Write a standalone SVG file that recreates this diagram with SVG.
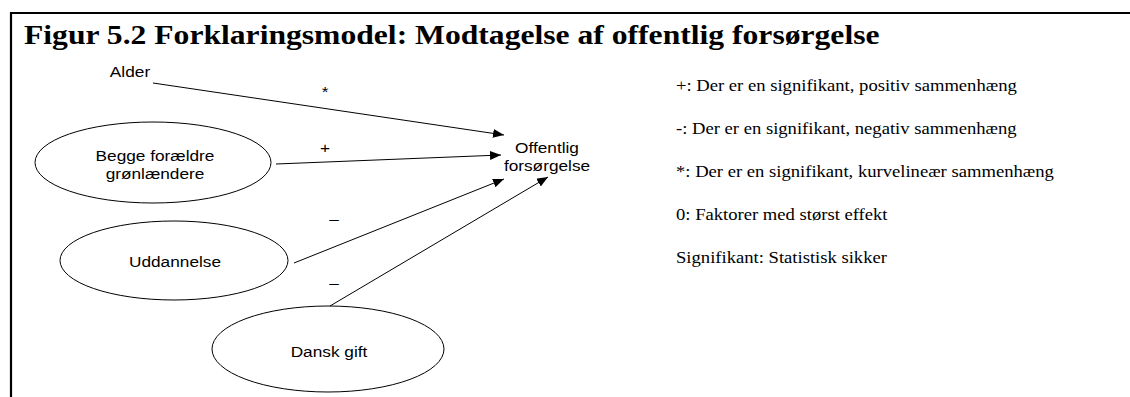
<svg xmlns="http://www.w3.org/2000/svg" width="1130" height="397" viewBox="0 0 1130 397">
<style>
.node{fill:none;stroke:#000;stroke-width:1}
.lbl{font-family:"Liberation Sans",Arial,sans-serif;font-size:15px;fill:#000}
.leg{font-family:"Liberation Serif","Times New Roman",serif;font-size:16.2px;fill:#000}
.title{font-family:"Liberation Serif","Times New Roman",serif;font-size:27.5px;font-weight:bold;fill:#000}
.conn{stroke:#000;stroke-width:1;fill:none}
.frame{stroke:#000;stroke-width:2.2;fill:none}
</style>
<defs>
<marker id="ah" markerUnits="userSpaceOnUse" markerWidth="12" markerHeight="10" refX="11" refY="4.5" orient="auto">
<path d="M0,0 L11,4.5 L0,9 Z" fill="#000"/>
</marker>
</defs>
<rect width="1130" height="397" fill="#fff"/>
<g id="frame">
<path class="frame" d="M11,397 L11,13 L1130,13"/>
</g>
<g id="title">
<text class="title" transform="matrix(1.15 0 0 1 24 44)">Figur 5.2 Forklaringsmodel: Modtagelse af offentlig forsørgelse</text>
</g>
<g id="connectors">
<line class="conn" x1="153" y1="83" x2="504" y2="135" marker-end="url(#ah)"/>
<line class="conn" x1="276" y1="164" x2="501" y2="155" marker-end="url(#ah)"/>
<line class="conn" x1="294" y1="263" x2="504" y2="179" marker-end="url(#ah)"/>
<line class="conn" x1="330" y1="306" x2="548" y2="177" marker-end="url(#ah)"/>
<text class="lbl" text-anchor="middle" transform="matrix(1.15 0 0 1 325 97)">*</text>
<text class="lbl" text-anchor="middle" transform="matrix(1.15 0 0 1 325 153)">+</text>
<text class="lbl" text-anchor="middle" transform="matrix(1.15 0 0 1 334 224)">–</text>
<text class="lbl" text-anchor="middle" transform="matrix(1.15 0 0 1 334 288)">–</text>
</g>
<g id="alder">
<text class="lbl" text-anchor="middle" transform="matrix(1.15 0 0 1 130 77)">Alder</text>
</g>
<g id="begge">
<ellipse class="node" cx="153" cy="162.5" rx="118" ry="40.5"/>
<text class="lbl" text-anchor="middle" transform="matrix(1.15 0 0 1 155 161)">Begge forældre</text>
<text class="lbl" text-anchor="middle" transform="matrix(1.15 0 0 1 155 179)">grønlændere</text>
</g>
<g id="uddannelse">
<ellipse class="node" cx="174" cy="260.5" rx="114" ry="39.5"/>
<text class="lbl" text-anchor="middle" transform="matrix(1.15 0 0 1 175 267)">Uddannelse</text>
</g>
<g id="dansk">
<ellipse class="node" cx="328" cy="349" rx="116" ry="43"/>
<text class="lbl" text-anchor="middle" transform="matrix(1.15 0 0 1 329 357)">Dansk gift</text>
</g>
<g id="offentlig">
<text class="lbl" text-anchor="middle" transform="matrix(1.15 0 0 1 547 153)">Offentlig</text>
<text class="lbl" text-anchor="middle" transform="matrix(1.15 0 0 1 547 171)">forsørgelse</text>
</g>
<g id="legend">
<text class="leg" transform="matrix(1.15 0 0 1 676 91)">+: Der er en signifikant, positiv sammenhæng</text>
<text class="leg" transform="matrix(1.15 0 0 1 676 134)">-: Der er en signifikant, negativ sammenhæng</text>
<text class="leg" transform="matrix(1.15 0 0 1 676 177)">*: Der er en signifikant, kurvelineær sammenhæng</text>
<text class="leg" transform="matrix(1.15 0 0 1 676 220)">0: Faktorer med størst effekt</text>
<text class="leg" transform="matrix(1.15 0 0 1 676 263)">Signifikant: Statistisk sikker</text>
</g>
</svg>
